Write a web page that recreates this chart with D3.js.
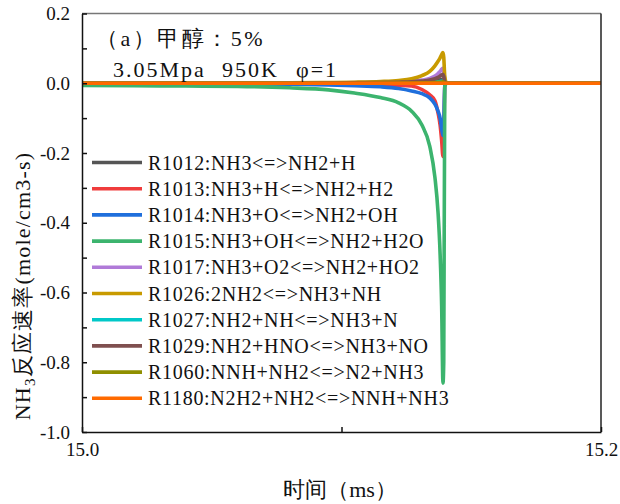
<!DOCTYPE html>
<html><head><meta charset="utf-8">
<script src="https://cdn.jsdelivr.net/npm/d3@7"></script>
<style>body{margin:0;background:#fff}</style>
</head><body><svg id="c" width="620" height="504"></svg>
<script>
const time = [15.000, 15.020, 15.040, 15.060, 15.080, 15.095, 15.105, 15.115, 15.122, 15.127, 15.131, 15.134, 15.136, 15.1372, 15.1380, 15.1386, 15.1391, 15.1394, 15.1398, 15.1405, 15.150, 15.170, 15.200];
const R1012 = [0, 0, 0, 0, 0, 0.0003, 0.0005, 0.001, 0.0015, 0.002, 0.003, 0.004, 0.006, 0.008, 0.010, 0.011, 0.012, 0.009, 0.002, 0, 0, 0, 0];
const R1013 = [0, 0, 0, -0.001, -0.001, -0.002, -0.003, -0.004, -0.006, -0.008, -0.018, -0.033, -0.050, -0.085, -0.120, -0.165, -0.210, -0.180, -0.005, 0, 0, 0, 0];
const R1014 = [-0.001, -0.001, -0.002, -0.002, -0.003, -0.005, -0.007, -0.010, -0.015, -0.022, -0.030, -0.042, -0.060, -0.080, -0.100, -0.130, -0.150, -0.120, -0.005, 0, 0, 0, 0];
const R1015 = [-0.006, -0.007, -0.008, -0.009, -0.013, -0.019, -0.028, -0.041, -0.056, -0.080, -0.120, -0.180, -0.270, -0.370, -0.490, -0.640, -0.860, -0.800, -0.010, 0, 0, 0, 0];
const R1017 = [0, 0, 0, 0, 0.0005, 0.001, 0.002, 0.003, 0.004, 0.006, 0.009, 0.014, 0.021, 0.028, 0.034, 0.040, 0.043, 0.035, 0.010, 0, 0, 0, 0];
const R1026 = [0, 0, 0.0005, 0.001, 0.001, 0.002, 0.003, 0.005, 0.008, 0.013, 0.022, 0.034, 0.050, 0.063, 0.073, 0.082, 0.088, 0.075, 0.020, 0, 0, 0, 0];
const R1027 = [0, 0, 0, 0, 0, 0, 0.0002, 0.0005, 0.0008, 0.001, 0.0015, 0.002, 0.003, 0.004, 0.005, 0.0055, 0.006, 0.004, 0.001, 0, 0, 0, 0];
const R1029 = [0, 0, 0, 0, 0, 0.0005, 0.001, 0.002, 0.003, 0.004, 0.006, 0.009, 0.013, 0.017, 0.021, 0.024, 0.026, 0.020, 0.005, 0, 0, 0, 0];
const R1060 = [0, 0, 0, 0, 0, 0, 0.0001, 0.0003, 0.0005, 0.0008, 0.001, 0.0015, 0.002, 0.0025, 0.003, 0.0035, 0.004, 0.003, 0.001, 0, 0, 0, 0];
const R1180 = [0, 0, 0, 0, 0, 0, 0, 0, 0, 0, 0, 0, 0, 0, 0, 0, 0, 0, 0, 0, 0, 0, 0];
const seriesLabels = ["R1012:NH3<=>NH2+H", "R1013:NH3+H<=>NH2+H2", "R1014:NH3+O<=>NH2+OH", "R1015:NH3+OH<=>NH2+H2O", "R1017:NH3+O2<=>NH2+HO2", "R1026:2NH2<=>NH3+NH", "R1027:NH2+NH<=>NH3+N", "R1029:NH2+HNO<=>NH3+NO", "R1060:NNH+NH2<=>N2+NH3", "R1180:N2H2+NH2<=>NNH+NH3"];
const seriesValues = [R1012, R1013, R1014, R1015, R1017, R1026, R1027, R1029, R1060, R1180];
const colors = ["#555555", "#f03c3c", "#1f6fdc", "#3cb46e", "#b07ad8", "#c89a00", "#00c8c8", "#7f4f4f", "#8f8f00", "#ff6a00"];
const xTickValues = [15.0, 15.1, 15.2];
const xTickLabels = ["15.0", "", "15.2"];
const yTickValues = [0.2, 0.1, 0.0, -0.1, -0.2, -0.3, -0.4, -0.5, -0.6, -0.7, -0.8, -0.9, -1.0];
const yTickLabels = ["0.2", "", "0.0", "", "-0.2", "", "-0.4", "", "-0.6", "", "-0.8", "", "-1.0"];
const noteLine1 = "（a）甲醇：5%";
const noteLine2 = ["3.05Mpa", "950K", "φ=1"];

const FONT = "'Times New Roman', 'Liberation Serif', 'DejaVu Serif', serif";
const L = 82, R = 601, T = 13.5, B = 432;
const svg = d3.select("#c");
const x = d3.scaleLinear().domain([15.0, 15.2]).range([L, R]);
const y = d3.scaleLinear().domain([-1.0, 0.2]).range([B, T]);

svg.append("clipPath").attr("id", "pc").append("rect")
  .attr("x", L).attr("y", T).attr("width", R - L).attr("height", B - T);

const line = d3.line().x((d, i) => x(time[i])).y(d => y(d)).curve(d3.curveMonotoneX);
const g = svg.append("g").attr("clip-path", "url(#pc)");
seriesValues.forEach((vals, k) => {
  g.append("path").datum(vals).attr("d", line)
    .attr("fill", "none").attr("stroke", colors[k]).attr("stroke-width", 3.6)
    .attr("stroke-linejoin", "round").attr("stroke-linecap", "round");
});

svg.append("line").attr("x1", L).attr("x2", R).attr("y1", T).attr("y2", T).attr("stroke", "#777").attr("stroke-width", 1.5);
svg.append("line").attr("x1", R).attr("x2", R).attr("y1", T).attr("y2", B).attr("stroke", "#222").attr("stroke-width", 1.5);

const xAxis = d3.axisBottom(x).tickValues(xTickValues).tickSizeInner(-5).tickSizeOuter(0).tickPadding(11)
  .tickFormat((d, i) => xTickLabels[i]);
const gx = svg.append("g").attr("transform", `translate(0,${B})`).call(xAxis).attr("font-family", FONT);
gx.select(".domain").attr("stroke", "#111").attr("stroke-width", 1.5);
gx.selectAll(".tick line").attr("stroke", "#111").attr("stroke-width", 1.5);
gx.selectAll("text").attr("font-size", 19).attr("font-family", FONT).attr("fill", "#111");

const yAxis = d3.axisLeft(y).tickValues(yTickValues).tickSizeInner(-5).tickSizeOuter(0).tickPadding(12)
  .tickFormat((d, i) => yTickLabels[i]);
const gy = svg.append("g").attr("transform", `translate(${L},0)`).call(yAxis).attr("font-family", FONT);
gy.select(".domain").attr("stroke", "#111").attr("stroke-width", 1.5);
gy.selectAll(".tick line").attr("stroke", "#111").attr("stroke-width", 1.5);
gy.selectAll("text").attr("font-size", 19).attr("font-family", FONT).attr("fill", "#111");

const lg = svg.append("g").attr("font-family", FONT).attr("fill", "#111");
seriesLabels.forEach((lab, k) => {
  const yy = 162.5 + k * 26.2;
  lg.append("line").attr("x1", 92).attr("x2", 142).attr("y1", yy).attr("y2", yy)
    .attr("stroke", colors[k]).attr("stroke-width", 3.6);
  lg.append("text").attr("x", 148).attr("y", yy + 7).attr("font-size", 20)
    .attr("letter-spacing", 0.7).attr("font-family", FONT).text(lab);
});

svg.append("text").attr("x", 96).attr("y", 46).attr("font-size", 22).attr("letter-spacing", 2.5)
  .attr("font-family", FONT).attr("fill", "#111").text(noteLine1);
const n2 = svg.append("text").attr("y", 77).attr("font-size", 22).attr("letter-spacing", 2)
  .attr("font-family", FONT).attr("fill", "#111");
const n2x = [113, 222, 296];
noteLine2.forEach((s, i) => n2.append("tspan").attr("x", n2x[i]).text(s));

svg.append("text").attr("x", 340).attr("y", 497).attr("text-anchor", "middle").attr("font-size", 22).attr("font-family", FONT).attr("fill", "#111").text("时间（ms）");
const yl = svg.append("text").attr("transform", "translate(30,286) rotate(-90)").attr("text-anchor", "middle")
  .attr("font-size", 22).attr("letter-spacing", 1.2).attr("font-family", FONT).attr("fill", "#111");
yl.append("tspan").text("NH");
yl.append("tspan").attr("font-size", 15).attr("dy", 5).text("3");
yl.append("tspan").attr("dy", -5).text("反应速率(mole/cm3-s)");
</script></body></html>
